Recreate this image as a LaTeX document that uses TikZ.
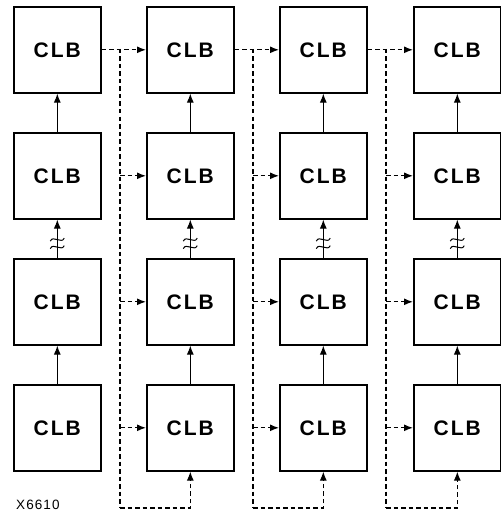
\documentclass[tikz,border=0pt]{standalone}
\usepackage{fontspec}
\setmainfont{Liberation Sans}
\usetikzlibrary{arrows.meta}
\tikzset{
  clb/.style={draw, line width=1.6pt, minimum width=87pt, minimum height=86pt, inner sep=0pt, anchor=north west,
    font=\fontsize{21}{23}\selectfont\bfseries},
  solidarr/.style={line width=1pt, -{Latex[length=9pt,width=7pt]}},
  dasharr/.style={line width=1.2pt, dash pattern=on 4.5pt off 3pt, -{Latex[length=9pt,width=7pt]}},
  dashln/.style={line width=1.2pt, dash pattern=on 4.5pt off 3pt},
  wave/.style={line width=1pt}
}
\newcommand{\clbtext}{C\kern2pt L\kern2pt B}
\begin{document}
\begin{tikzpicture}[x=1pt,y=-1pt]
\useasboundingbox (0,0) rectangle (500,516);
% boxes
\foreach \c/\xl in {1/13,2/146,3/279,4/413}{
  \foreach \r/\yt in {1/6,2/132,3/258,4/384}{
    \node[clb] (b\r\c) at (\xl,\yt) {\clbtext};
  }
}
% vertical solid arrows
\foreach \c in {1,2,3,4}{
  \draw[solidarr] (b4\c.north) -- (b3\c.south);
  \draw[solidarr] (b2\c.north) -- (b1\c.south);
  \draw[solidarr] (b3\c.north) -- (b2\c.south);
  \path (b2\c.south) ++(0,20) coordinate (w1\c) ++(0,7.5) coordinate (w2\c);
  \foreach \w in {w1\c,w2\c}{
    \draw[wave] (\w) ++(-7,1.5) .. controls ++(2,-4) and ++(-3,0) .. ++(7,-1.5)
                 .. controls ++(3,0) and ++(-2,4) .. ++(7,-1.5);
  }
}
% dashed routing
\foreach \i/\j/\xg in {1/2/120,2/3/253,3/4/386}{
  \draw[dasharr] (b1\i.east) -- (b1\j.west);
  \coordinate (t\i) at (\xg,49);
  \coordinate (bt\i) at (\xg,508);
  \draw[dashln] (t\i) -- (bt\i);
  \draw[dasharr] (bt\i) -| (b4\j.south);
  \foreach \r in {2,3,4}{
    \draw[dasharr] (b\r\j.west -| t\i) -- (b\r\j.west);
  }
}
\node[anchor=west, font=\fontsize{13.5}{15}\selectfont, inner sep=0pt] (lbl) at (16,504.5) {\addfontfeature{LetterSpace=8}X6610};
\end{tikzpicture}
\end{document}
